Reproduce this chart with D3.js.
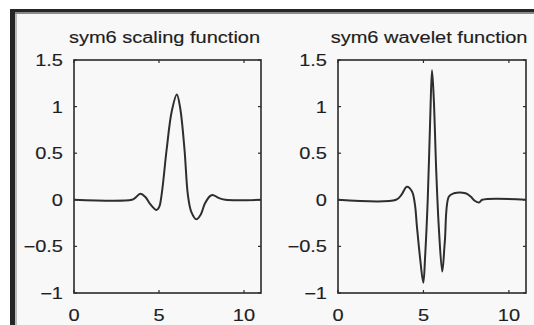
<!DOCTYPE html>
<html>
<head>
<meta charset="utf-8">
<script src="https://cdn.jsdelivr.net/npm/d3@7"></script>
<style>
  html, body { margin: 0; padding: 0; background: #ffffff; }
  svg { display: block; }
  text { font-family: "Liberation Sans", Arial, sans-serif; }
</style>
</head>
<body>
<svg id="chart" width="534" height="325"></svg>
<script>
// ---- data ----
const titles = ["sym6 scaling function", "sym6 wavelet function"];
const xTicks = [0, 5, 10];
const yTicks = [-1, -0.5, 0, 0.5, 1, 1.5];
const xDomain = [0, 11];
const yDomain = [-1, 1.5];

const phiT = [0, 3.4, 3.6, 3.9, 4.2, 4.5, 4.85, 5.0, 5.06, 5.2, 5.45, 5.75, 6.05, 6.25, 6.5, 6.7, 6.9, 7.2, 7.45, 7.7, 8.0, 8.2, 8.5, 8.9, 11];
const phiV = [0, 0, 0.02, 0.065, 0.03, -0.05, -0.11, -0.08, -0.05, 0.12, 0.54, 0.95, 1.13, 0.98, 0.54, 0.05, -0.13, -0.21, -0.16, -0.04, 0.04, 0.05, 0.02, 0, 0];

const psiT = [0, 3.4, 3.7, 4.03, 4.33, 4.5, 4.62, 4.8, 4.99, 5.1, 5.25, 5.4, 5.5, 5.6, 5.75, 5.9, 6.1, 6.25, 6.49, 6.78, 7.46, 7.76, 8.0, 8.25, 8.44, 11];
const psiV = [0, 0, 0.05, 0.14, 0.09, -0.05, -0.29, -0.62, -0.89, -0.6, 0.0, 0.9, 1.39, 1.1, 0.3, -0.3, -0.77, -0.45, 0.035, 0.07, 0.07, 0.035, -0.01, -0.03, 0, 0];

const series = [
  { t: phiT, v: phiV },
  { t: psiT, v: psiV }
];

// ---- layout ----
const svg = d3.select("#chart");
const W = 534, H = 325;
const bg = "#f8f8f8";
const ink = "#1e1e1e";
const stretch = 1.25;

svg.append("rect").attr("x", 10).attr("y", 9).attr("width", W - 10).attr("height", H - 9).attr("fill", bg);
// frame (dark edges of the window)
svg.append("rect").attr("x", 10).attr("y", 9).attr("width", W - 10).attr("height", 3).attr("fill", "#262626");
svg.append("rect").attr("x", 10).attr("y", 12).attr("width", W - 10).attr("height", 2).attr("fill", "#8a8a8a");
svg.append("rect").attr("x", 10).attr("y", 9).attr("width", 5).attr("height", H - 9).attr("fill", "#262626");
svg.append("rect").attr("x", 15).attr("y", 14).attr("width", 2).attr("height", H - 14).attr("fill", "#bbbbbb");

const panels = [
  { left: 74, right: 261, top: 60, bottom: 293 },
  { left: 338, right: 526, top: 60, bottom: 293 }
];

function stretchedText(g, x, y, str, anchor, size) {
  g.append("g")
    .attr("transform", `translate(${x},${y}) scale(${stretch},1)`)
    .append("text")
    .attr("text-anchor", anchor)
    .attr("font-size", size)
    .attr("fill", ink)
    .attr("stroke", ink)
    .attr("stroke-width", 0.15)
    .text(str);
}

panels.forEach((p, i) => {
  const g = svg.append("g");
  const x = d3.scaleLinear().domain(xDomain).range([p.left, p.right]);
  const y = d3.scaleLinear().domain(yDomain).range([p.bottom, p.top]);

  // box
  g.append("rect")
    .attr("x", p.left).attr("y", p.top)
    .attr("width", p.right - p.left).attr("height", p.bottom - p.top)
    .attr("fill", "none").attr("stroke", "#2a2a2a").attr("stroke-width", 1.6);

  // inward ticks
  const tl = 3;
  xTicks.forEach(t => {
    const xp = x(t);
    g.append("line").attr("x1", xp).attr("x2", xp).attr("y1", p.bottom).attr("y2", p.bottom - tl).attr("stroke", "#2a2a2a").attr("stroke-width", 1.2);
    g.append("line").attr("x1", xp).attr("x2", xp).attr("y1", p.top).attr("y2", p.top + tl).attr("stroke", "#2a2a2a").attr("stroke-width", 1.2);
    stretchedText(g, xp, p.bottom + 28, String(t), "middle", 16);
  });
  yTicks.forEach(t => {
    const yp = y(t);
    g.append("line").attr("x1", p.left).attr("x2", p.left + tl).attr("y1", yp).attr("y2", yp).attr("stroke", "#2a2a2a").attr("stroke-width", 1.2);
    g.append("line").attr("x1", p.right).attr("x2", p.right - tl).attr("y1", yp).attr("y2", yp).attr("stroke", "#2a2a2a").attr("stroke-width", 1.2);
    const lab = (t < 0 ? "\u2212" + String(-t) : String(t));
    stretchedText(g, p.left - 11, yp + 6, lab, "end", 16);
  });

  // title
  stretchedText(g, (p.left + p.right) / 2 - 3, 43, titles[i], "middle", 16);

  // curve
  const s = series[i];
  const pts = s.t.map((t, k) => [t, s.v[k]]);
  const line = d3.line()
    .x(d => x(d[0]))
    .y(d => y(d[1]))
    .curve(d3.curveCatmullRom.alpha(0.5));
  g.append("path")
    .datum(pts)
    .attr("d", line)
    .attr("fill", "none")
    .attr("stroke", "#2e2e2e")
    .attr("stroke-width", 2)
    .attr("stroke-linejoin", "round");
});
</script>
</body>
</html>
